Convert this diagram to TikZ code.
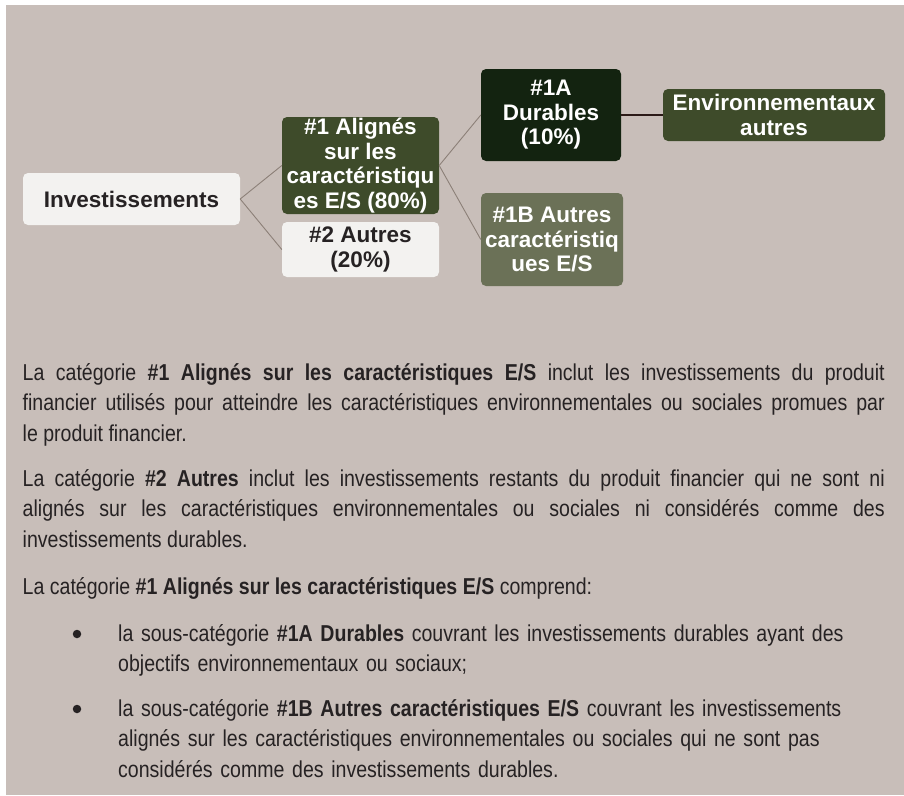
\documentclass[tikz,border=0pt]{standalone}
\usepackage{fontspec}
\setmainfont{Liberation Sans}
\newfontfamily\bodyfont[FakeStretch=0.85]{Liberation Sans}
\usepackage{tikz}
\usetikzlibrary{positioning}
\definecolor{bgtaupe}{RGB}{200,190,185}
\definecolor{boxlight}{RGB}{243,242,240}
\definecolor{olivedark}{RGB}{62,75,42}
\definecolor{forestdark}{RGB}{19,35,16}
\definecolor{olivegray}{RGB}{107,113,87}
\definecolor{branchgray}{RGB}{140,128,120}
\definecolor{linkdark}{RGB}{43,26,23}
\definecolor{inkdark}{RGB}{38,34,35}

\begin{document}
\begin{tikzpicture}[x=1pt,y=-1pt]
\tikzstyle{every node}+=[inner sep=0pt]
\tikzstyle{box}=[rectangle, rounded corners=5pt, align=center, font=\fontsize{22.5}{24.5}\selectfont\bfseries]
\tikzstyle{lightbox}=[box, fill=boxlight, text=inkdark]
\tikzstyle{olivebox}=[box, fill=olivedark, text=white]
\tikzstyle{forestbox}=[box, fill=forestdark, text=white]
\tikzstyle{graybox}=[box, fill=olivegray, text=white]
\tikzstyle{branch}=[draw=branchgray, line width=0.9pt]
\tikzstyle{link}=[draw=linkdark, line width=2.6pt]
\tikzstyle{para}=[anchor=base west, text width=862pt, align=justify, text=inkdark, font=\fontsize{23}{30.7}\bodyfont]
\tikzstyle{item}=[anchor=base west, text width=760pt, align=left, text=inkdark, font=\fontsize{23}{30.7}\bodyfont]
\tikzstyle{dot}=[circle, fill=inkdark, minimum size=8.5pt]
\useasboundingbox (0,0) rectangle (904,795);
\fill [bgtaupe] (6,5) rectangle (904,795);
\node [lightbox, minimum width=217pt, minimum height=52pt] (inv) at (131.5,199) {Investissements};
\node [olivebox, minimum width=157pt, minimum height=97pt] (align) at (360.5,165.5) {\#1 Alignés\\sur les\\caractéristiqu\\es E/S (80\%)};
\node [lightbox, minimum width=157pt, minimum height=55pt] (other) at (360.5,249.5) {\#2 Autres\\(20\%)};
\node [forestbox, minimum width=140pt, minimum height=92pt] (dur) at (551,115) {\#1A\\Durables\\(10\%)};
\node [olivebox, minimum width=222pt, minimum height=52pt] (env) at (774,115) {Environnementaux\\autres};
\node [graybox, minimum width=142pt, minimum height=93pt] (autres) at (552,239.5) {\#1B Autres\\caractéristiq\\ues E/S};
\draw [branch] (inv.east) -- (align.west);
\draw [branch] (inv.east) -- (other.west);
\draw [branch] (align.east) -- (dur.west);
\draw [branch] (align.east) -- (autres.west);
\draw [link] (dur.east) -- (env.west);
\node [para] (p1) at (22.5,380) {La catégorie \textbf{\#1 Alignés sur les caractéristiques E/S} inclut les investissements du produit\linebreak financier utilisés pour atteindre les caractéristiques environnementales ou sociales promues par\linebreak le produit financier.};
\node [para] (p2) at (22.5,486) {La catégorie \textbf{\#2 Autres} inclut les investissements restants du produit financier qui ne sont ni\linebreak alignés sur les caractéristiques environnementales ou sociales ni considérés comme des\linebreak investissements durables.};
\node [para] (p3) at (22.5,594) {La catégorie \textbf{\#1 Alignés sur les caractéristiques E/S} comprend:};
\node [dot] (d1) at (77,634) {};
\node [item] (b1) at (118,641) {la sous-catégorie \textbf{\#1A Durables} couvrant les investissements durables ayant des\\objectifs environnementaux ou sociaux;};
\node [dot] (d2) at (77,709) {};
\node [item] (b2) at (118,716) {la sous-catégorie \textbf{\#1B Autres caractéristiques E/S} couvrant les investissements\\alignés sur les caractéristiques environnementales ou sociales qui ne sont pas\\considérés comme des investissements durables.};
\end{tikzpicture}
\end{document}
